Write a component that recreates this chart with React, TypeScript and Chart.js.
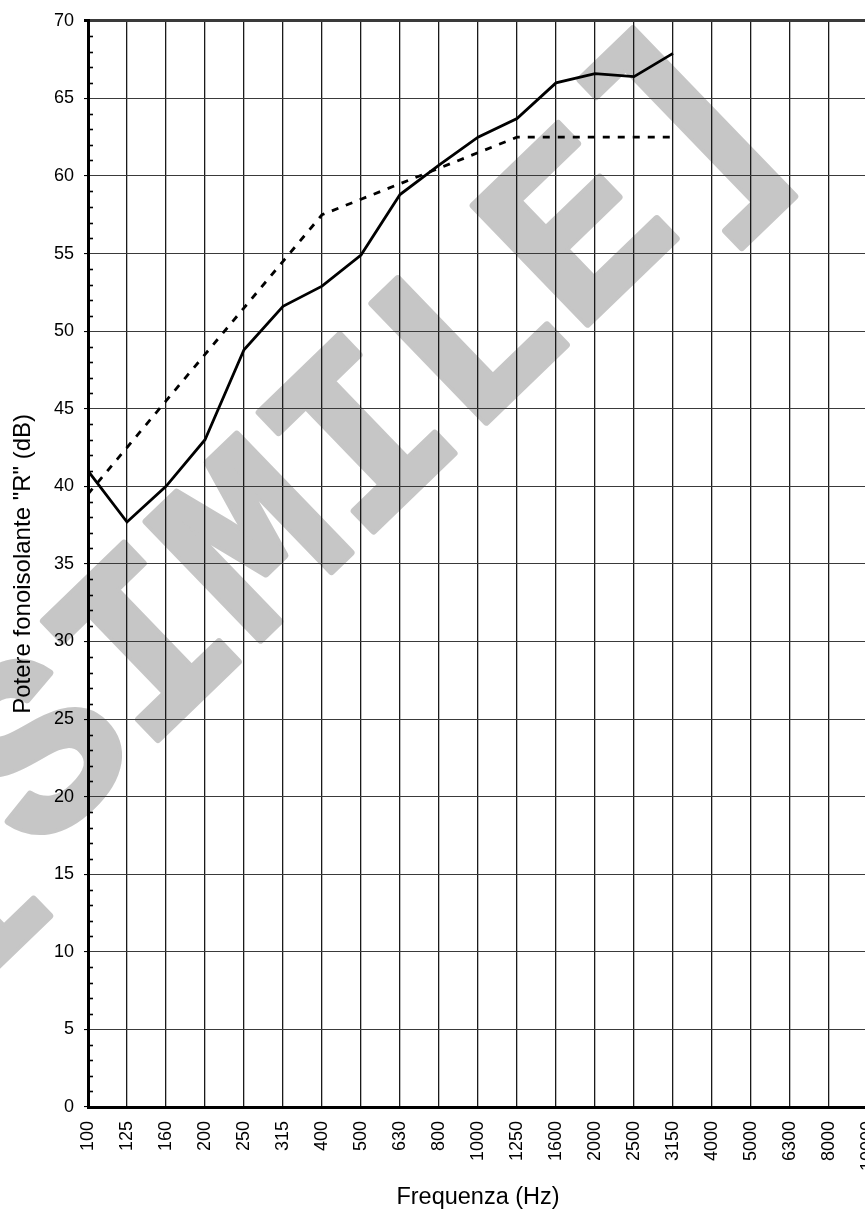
import React, { useEffect, useRef } from "react";
import { Chart, registerables } from "chart.js";

Chart.register(...registerables);

const frequencies = [
  "100", "125", "160", "200", "250", "315", "400", "500", "630", "800",
  "1000", "1250", "1600", "2000", "2500", "3150", "4000", "5000", "6300", "8000", "10000",
];

const measuredR = [
  41.0, 37.7, 40.0, 43.0, 48.8, 51.6, 52.9, 54.9, 58.8, 60.7,
  62.5, 63.7, 66.0, 66.6, 66.4, 67.9, null, null, null, null, null,
];

const referenceR = [
  39.5, 42.5, 45.5, 48.5, 51.5, 54.5, 57.5, 58.5, 59.5, 60.5,
  61.5, 62.5, 62.5, 62.5, 62.5, 62.5, null, null, null, null, null,
];

const yMin = 0;
const yMax = 70;
const yStep = 5;

const xTitle = "Frequenza (Hz)";
const yTitle = 'Potere fonoisolante "R" (dB)';

const watermarkText = "[SIMILE]";

const FONT = "'Liberation Sans', Arial, sans-serif";
const MONO = "'Liberation Mono', 'Courier New', monospace";

const watermarkPlugin = {
  id: "watermark",
  beforeDraw(chart: any) {
    const ctx = chart.ctx;
    ctx.save();
    ctx.fillStyle = "rgb(198,198,198)";
    ctx.strokeStyle = "rgb(198,198,198)";
    ctx.lineWidth = 7;
    ctx.lineJoin = "round";
    ctx.font = `bold 250px ${MONO}`;
    ctx.textAlign = "center";
    ctx.textBaseline = "middle";
    ctx.translate(316, 499);
    ctx.rotate((-44 * Math.PI) / 180);
    ctx.strokeText(watermarkText, 0, 0);
    ctx.fillText(watermarkText, 0, 0);
    ctx.restore();
  },
};

const minorTickPlugin = {
  id: "minorTicks",
  beforeDatasetsDraw(chart: any) {
    const ctx = chart.ctx;
    const y = chart.scales.y;
    const left = chart.chartArea.left;
    ctx.save();
    ctx.strokeStyle = "#000";
    ctx.lineWidth = 1.6;
    for (let v = yMin; v <= yMax; v += 1) {
      if (v % yStep === 0) continue;
      const py = Math.round(y.getPixelForValue(v)) + 0.5;
      ctx.beginPath();
      ctx.moveTo(left, py);
      ctx.lineTo(left + 5, py);
      ctx.stroke();
    }
    ctx.restore();
  },
};

export default function App() {
  const canvasRef = useRef<HTMLCanvasElement | null>(null);

  useEffect(() => {
    const canvas = canvasRef.current;
    if (!canvas) return;
    const chart = new Chart(canvas, {
      type: "line",
      data: {
        labels: frequencies,
        datasets: [
          {
            label: "R misurato",
            data: measuredR,
            borderColor: "#000",
            borderWidth: 2.8,
            pointRadius: 0,
            tension: 0,
            spanGaps: false,
            fill: false,
          },
          {
            label: "Curva di riferimento",
            data: referenceR,
            borderColor: "#000",
            borderWidth: 2.8,
            borderDash: [7, 8],
            pointRadius: 0,
            tension: 0,
            fill: false,
          },
        ],
      },
      options: {
        responsive: false,
        animation: false,
        devicePixelRatio: 1,
        layout: { padding: { top: 20, right: 17, left: 0, bottom: 0 } },
        plugins: {
          legend: { display: false },
          tooltip: { enabled: false },
        },
        scales: {
          x: {
            type: "category",
            offset: false,
            afterFit: (scale: any) => {
              scale.height = 102;
              scale.paddingLeft = 0;
              scale.paddingRight = 0;
            },
            grid: {
              display: true,
              color: "#1a1a1a",
              lineWidth: 1.3,
              drawTicks: false,
            },
            border: { display: true, color: "#000", width: 3 },
            ticks: {
              autoSkip: false,
              minRotation: 90,
              maxRotation: 90,
              padding: 14,
              color: "#000",
              font: { family: FONT, size: 18 },
            },
            title: {
              display: true,
              text: xTitle,
              color: "#000",
              font: { family: FONT, size: 23.5, lineHeight: 1 },
              padding: { top: 0, bottom: 0 },
            },
          },
          y: {
            min: yMin,
            max: yMax,
            afterFit: (scale: any) => {
              scale.width = 88;
            },
            grid: {
              display: true,
              color: "#3a3a3a",
              lineWidth: (c: any) => (c.tick && c.tick.value === yMax ? 3 : 1.1),
              drawTicks: true,
              tickLength: 4,
              tickColor: "#000",
            },
            border: { display: true, color: "#000", width: 3 },
            ticks: {
              stepSize: yStep,
              padding: 10,
              color: "#000",
              font: { family: FONT, size: 18 },
            },
            title: {
              display: true,
              text: yTitle,
              color: "#000",
              font: { family: FONT, size: 24, lineHeight: 1.2 },
              padding: { top: 9, bottom: 0 },
            },
          },
        },
      },
      plugins: [watermarkPlugin, minorTickPlugin],
    });
    return () => chart.destroy();
  }, []);

  return (
    <div
      style={{
        position: "fixed",
        left: 0,
        top: 0,
        width: 865,
        height: 1209,
        overflow: "hidden",
        background: "#fff",
      }}
    >
      <canvas
        ref={canvasRef}
        width={885}
        height={1209}
        style={{ width: 885, height: 1209, display: "block" }}
      />
    </div>
  );
}
